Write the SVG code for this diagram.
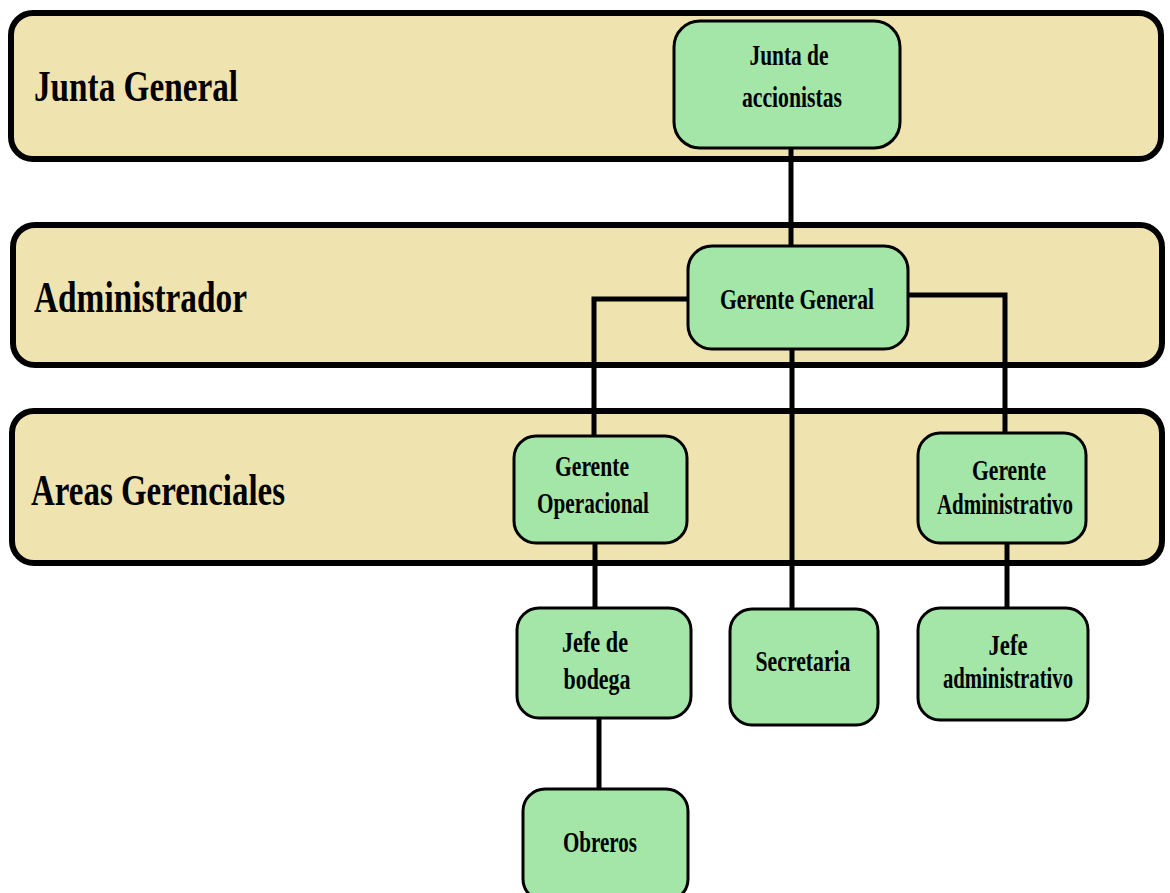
<svg xmlns="http://www.w3.org/2000/svg" width="1170" height="893" viewBox="0 0 1170 893">
<style>
.band{fill:#efe3b0;stroke:#000;stroke-width:6}
.node{fill:#a3e6a8;stroke:#000;stroke-width:3}
.conn{stroke:#000;stroke-width:5;fill:none}
.bl{font-family:"Liberation Serif","Times New Roman",serif;font-weight:bold;font-size:45px;fill:#000}
.nt{font-family:"Liberation Serif","Times New Roman",serif;font-weight:bold;font-size:29px;fill:#000;text-anchor:middle}
</style>
<rect width="1170" height="893" fill="#fff"/>
<g id="band-junta-general">
<rect class="band" x="11" y="13" width="1150" height="146" rx="22"/>
<text class="bl" x="34" y="101" textLength="204" lengthAdjust="spacingAndGlyphs">Junta General</text>
</g>
<g id="band-administrador">
<rect class="band" x="13" y="225" width="1149" height="140" rx="22"/>
<text class="bl" x="34" y="312" textLength="213" lengthAdjust="spacingAndGlyphs">Administrador</text>
</g>
<g id="band-areas-gerenciales">
<rect class="band" x="12" y="411" width="1150" height="152" rx="22"/>
<text class="bl" x="31" y="505" textLength="254" lengthAdjust="spacingAndGlyphs">Areas Gerenciales</text>
</g>
<g id="connectors">
<line class="conn" x1="791" y1="148" x2="791" y2="245"/>
<polyline class="conn" points="687,299 594,299 594,435"/>
<polyline class="conn" points="908,295 1005,295 1005,432"/>
<line class="conn" x1="792" y1="349" x2="792" y2="608"/>
<line class="conn" x1="595" y1="543" x2="595" y2="607"/>
<line class="conn" x1="599" y1="718" x2="599" y2="788"/>
<line class="conn" x1="1007" y1="543" x2="1007" y2="607"/>
</g>
<g id="node-junta-accionistas">
<rect class="node" x="674" y="21" width="226" height="127" rx="26"/>
<text class="nt" x="789" y="65" textLength="79" lengthAdjust="spacingAndGlyphs">Junta de</text>
<text class="nt" x="792" y="107" textLength="100" lengthAdjust="spacingAndGlyphs">accionistas</text>
</g>
<g id="node-gerente-general">
<rect class="node" x="688" y="246" width="220" height="103" rx="24"/>
<text class="nt" x="797" y="309" textLength="154" lengthAdjust="spacingAndGlyphs">Gerente General</text>
</g>
<g id="node-gerente-operacional">
<rect class="node" x="514" y="436" width="173" height="107" rx="22"/>
<text class="nt" x="592" y="476" textLength="74" lengthAdjust="spacingAndGlyphs">Gerente</text>
<text class="nt" x="593" y="513" textLength="112" lengthAdjust="spacingAndGlyphs">Operacional</text>
</g>
<g id="node-gerente-administrativo">
<rect class="node" x="918" y="433" width="168" height="110" rx="22"/>
<text class="nt" x="1009" y="480" textLength="74" lengthAdjust="spacingAndGlyphs">Gerente</text>
<text class="nt" x="1005" y="514" textLength="136" lengthAdjust="spacingAndGlyphs">Administrativo</text>
</g>
<g id="node-jefe-bodega">
<rect class="node" x="517" y="608" width="174" height="110" rx="22"/>
<text class="nt" x="595" y="652" textLength="66" lengthAdjust="spacingAndGlyphs">Jefe de</text>
<text class="nt" x="597" y="689" textLength="67" lengthAdjust="spacingAndGlyphs">bodega</text>
</g>
<g id="node-secretaria">
<rect class="node" x="730" y="609" width="148" height="116" rx="22"/>
<text class="nt" x="803" y="671" textLength="95" lengthAdjust="spacingAndGlyphs">Secretaria</text>
</g>
<g id="node-jefe-administrativo">
<rect class="node" x="918" y="608" width="170" height="112" rx="22"/>
<text class="nt" x="1008" y="655" textLength="39" lengthAdjust="spacingAndGlyphs">Jefe</text>
<text class="nt" x="1008" y="688" textLength="130" lengthAdjust="spacingAndGlyphs">administrativo</text>
</g>
<g id="node-obreros">
<rect class="node" x="523" y="789" width="165" height="112" rx="22"/>
<text class="nt" x="600" y="852" textLength="74" lengthAdjust="spacingAndGlyphs">Obreros</text>
</g>
</svg>
